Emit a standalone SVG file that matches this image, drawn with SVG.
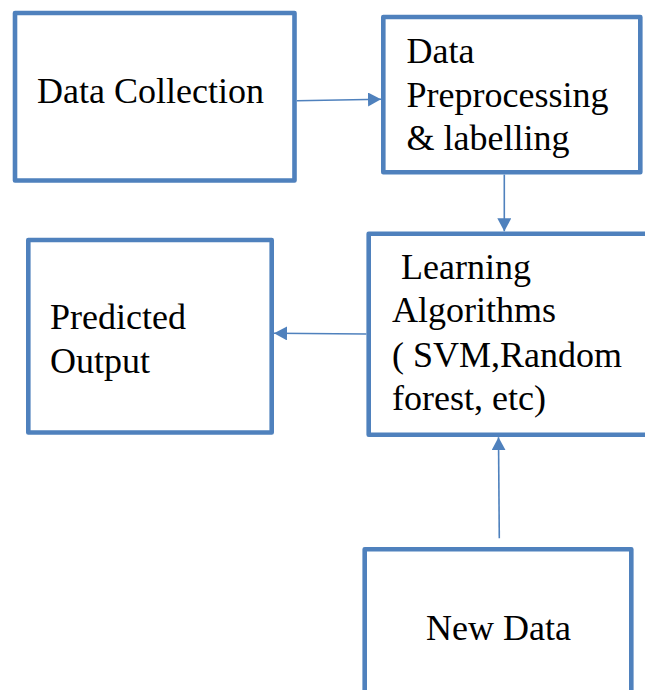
<svg xmlns="http://www.w3.org/2000/svg" width="645" height="690" viewBox="0 0 645 690">
  <defs>
    <marker id="arrow" markerUnits="userSpaceOnUse" markerWidth="13" markerHeight="14" viewBox="0 0 13 14" refX="13" refY="7" orient="auto">
      <path d="M0,0 L13,7 L0,14 Z" fill="#4F81BD"/>
    </marker>
  </defs>
  <rect width="645" height="690" fill="#ffffff"/>

  <!-- boxes: white fill, thick blue outline; captions in a Times-metric serif -->
  <g fill="#ffffff" stroke="#4F81BD" stroke-width="4.6" stroke-linejoin="round">
    <g id="data-collection">
      <rect x="15" y="13" width="279.5" height="167.5"/>
    </g>
    <g id="data-preprocessing">
      <rect x="383.3" y="17" width="257" height="155.3"/>
    </g>
    <g id="learning-algorithms">
      <rect x="368.7" y="233.7" width="290" height="201"/>
    </g>
    <g id="predicted-output">
      <rect x="28.3" y="240" width="243.4" height="192.5"/>
    </g>
    <g id="new-data">
      <rect x="364.7" y="549.3" width="266.6" height="160"/>
    </g>
  </g>

  <g id="captions" font-family="Liberation Serif" font-size="36" fill="#000000">
    <text x="37" y="103">Data Collection</text>
    <text x="406.5" y="63">Data</text>
    <text x="406.5" y="106.5">Preprocessing</text>
    <text x="406.5" y="150">&amp; labelling</text>
    <text x="392" y="279" xml:space="preserve"> Learning</text>
    <text x="392" y="322">Algorithms</text>
    <text x="392" y="366.5">( SVM,Random</text>
    <text x="392" y="409.5">forest, etc)</text>
    <text x="50" y="328.5">Predicted</text>
    <text x="50" y="373">Output</text>
    <text x="426" y="640">New Data</text>
  </g>

  <g id="connectors" stroke="#4F81BD" stroke-width="1.6" fill="none" marker-end="url(#arrow)">
    <line x1="296.8" y1="100.8" x2="381" y2="99.3"/>
    <line x1="504.3" y1="174.6" x2="504.3" y2="231.3"/>
    <line x1="366.4" y1="334" x2="274" y2="333.3"/>
    <line x1="499.3" y1="538.3" x2="498.5" y2="437.3"/>
  </g>
</svg>
